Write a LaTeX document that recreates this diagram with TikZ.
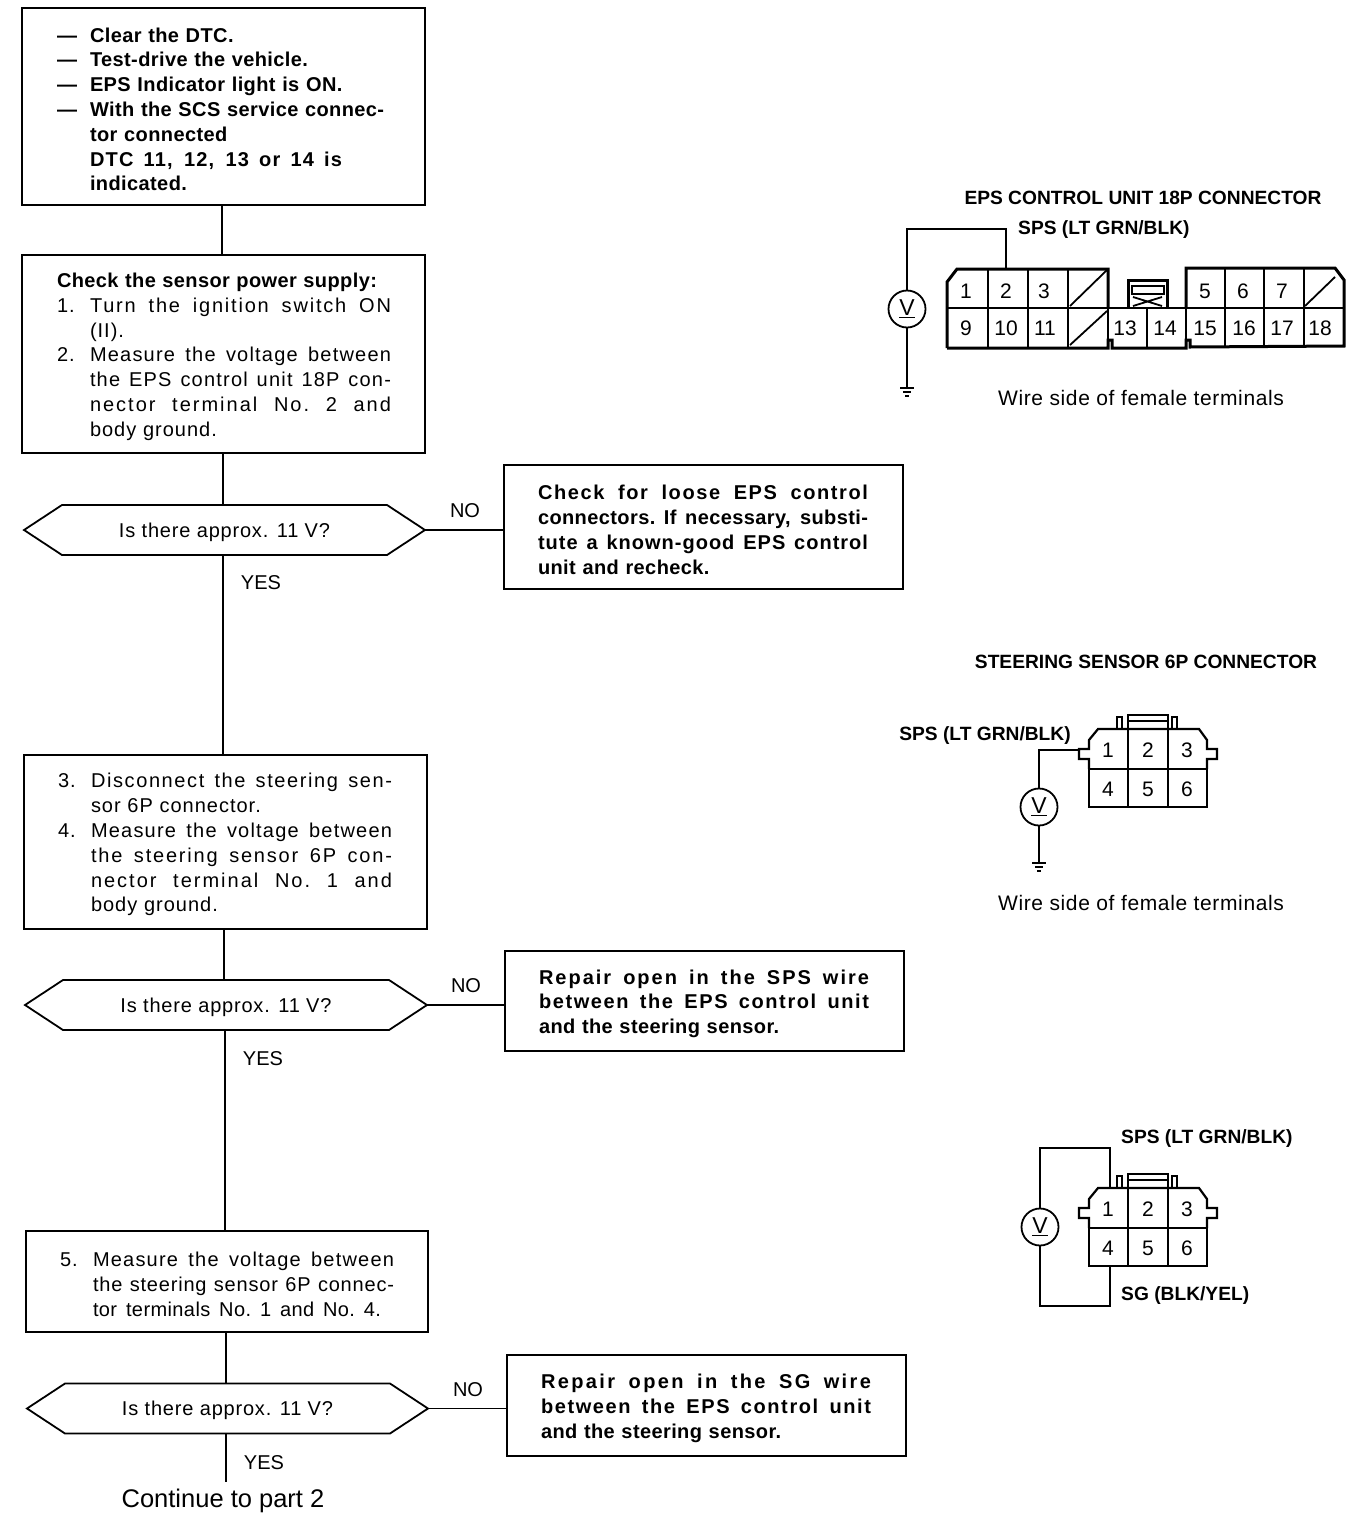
\documentclass[tikz,border=0pt]{standalone}
\usepackage{fontspec}
\setmainfont{Liberation Sans}
\newcommand{\J}[3][4]{\makebox[#2pt][s]{\addfontfeature{LetterSpace=#1}\spaceskip=0.28em plus 1fil minus 0.1em\xspaceskip=\spaceskip #3}}
\newcommand{\Ind}{\hspace*{33pt}}
\newcommand{\Num}[1]{\makebox[33pt][l]{#1}}
\newcommand{\Hex}[2][38pt]{\draw[flow,line join=miter] (#2.west) -- ([xshift=#1]#2.north west) -- ([xshift=-#1]#2.north east) -- (#2.east) -- ([xshift=-#1]#2.south east) -- ([xshift=#1]#2.south west) -- cycle;}
\newcommand{\Ground}[2]{\draw[wire] (#1-7,#2) -- (#1+7,#2) (#1-4,#2+4) -- (#1+4,#2+4) (#1-2,#2+8) -- (#1+2,#2+8);}
\newcommand{\Q}{\rule{0pt}{18.5pt}Is there approx. 11 V?}
\tikzset{
  wire/.style={line width=1.8pt},
  heavy/.style={line width=3pt,line join=miter},
  flow/.style={line width=1.8pt},
  box/.style={draw,line width=1.8pt,outer sep=0pt,anchor=north west,inner ysep=0pt,align=left,
    font=\fontsize{20}{24.8}\selectfont\addfontfeature{LetterSpace=5},
    execute at begin node={\rule{0pt}{20pt}}},
  boldbox/.style={box,font=\fontsize{20}{24.8}\selectfont\bfseries\addfontfeature{LetterSpace=2}},
  decision/.style={minimum height=50pt,inner sep=0pt,outer sep=0pt,font=\fontsize{20}{24}\selectfont\addfontfeature{LetterSpace=4}},
  answer/.style={inner sep=0pt,font=\fontsize{20}{24}\selectfont},
  title/.style={inner sep=0pt,font=\fontsize{19.2}{24}\selectfont\bfseries},
  note/.style={inner sep=0pt,font=\fontsize{21}{24}\selectfont\addfontfeature{LetterSpace=3}},
  pinnum/.style={inner sep=0pt,font=\fontsize{21}{24}\selectfont},
  meter/.style={draw,circle,line width=1.8pt,minimum size=37pt,inner sep=0pt,outer sep=0pt,font=\fontsize{23}{24}\selectfont},
  conn6/.pic={
    \draw[line width=2.2pt] (1089,769) -- (1089,759) -- (1079,759) -- (1079,749) -- (1089,749) -- (1089,740) -- (1098,729)
      -- (1199,729) -- (1207,740) -- (1207,749) -- (1217,749) -- (1217,759) -- (1207,759) -- (1207,769);
    \draw[line width=2.4pt] (1089,769) rectangle (1207,807);
    \draw[wire] (1128,729) -- (1128,807) (1168,729) -- (1168,807);
    \draw[line width=2.2pt] (1117,729) -- (1117,717) -- (1122,717) -- (1122,729)
                (1172,729) -- (1172,717) -- (1177,717) -- (1177,729);
    \draw[line width=2.4pt] (1128,729) -- (1128,715) -- (1168,715) -- (1168,729) (1128,721) -- (1168,721);
    \foreach \n/\x/\y in {1/1108/750,2/1148/750,3/1187/750,4/1108/789,5/1148/789,6/1187/789}
      \node[pinnum] (pin\n) at (\x,\y) {\n};
    \coordinate (-ear) at (1079,750);
    \coordinate (-top) at (1110,729);
    \coordinate (-bot) at (1110,807);
  }
}
\begin{document}
\begin{tikzpicture}[x=1pt,y=-1pt]
\useasboundingbox (0,0) rectangle (1360,1518);
% ---------- flow chart
\node[boldbox,minimum width=403pt,minimum height=197pt,inner xsep=35pt,text width=333pt] (b1) at (22,8)
  {\Num{---}Clear the DTC.\\\Num{---}Test-drive the vehicle.\\\Num{---}EPS Indicator light is ON.\\
   \Num{---}With the SCS service connec-\\\Ind tor connected\\\Ind\J[6]{252}{DTC 11, 12, 13 or 14 is}\\\Ind indicated.};
\node[box,minimum width=403pt,minimum height=198pt,inner xsep=35pt,text width=333pt] (b2) at (22,255)
  {\textbf{\J[2]{320}{Check the sensor power supply:}}\\
   \Num{1.}\J[9]{301}{Turn the ignition switch ON}\\\Ind(II).\\
   \Num{2.}\J[6]{301}{Measure the voltage between}\\
   \Ind\J[6]{301}{the EPS control unit 18P con-}\\
   \Ind\J[10]{301}{nector terminal No. 2 and}\\
   \Ind body ground.};
\node[decision,minimum width=401pt] (d1) at (224.5,530) {\Q};
\Hex{d1}
\node[boldbox,minimum width=399pt,minimum height=124pt,inner xsep=34pt,text width=331pt] (n1) at (504,465)
  {\J[8]{330}{Check for loose EPS control}\\\J[2]{330}{connectors. If necessary, substi-}\\
   \J[5]{330}{tute a known-good EPS control}\\unit and recheck.};
\node[box,minimum width=403pt,minimum height=174pt,inner xsep=34pt,text width=335pt] (b3) at (24,755)
  {\Num{3.}\J[8]{301}{Disconnect the steering sen-}\\\Ind sor 6P connector.\\
   \Num{4.}\J[6]{301}{Measure the voltage between}\\
   \Ind\J[9]{301}{the steering sensor 6P con-}\\
   \Ind\J[10]{301}{nector terminal No. 1 and}\\\Ind body ground.};
\node[decision,minimum width=402pt] (d2) at (226,1005) {\Q};
\Hex{d2}
\node[boldbox,minimum width=399pt,minimum height=100pt,inner xsep=34pt,text width=331pt] (n2) at (505,951)
  {\J[10]{330}{Repair open in the SPS wire}\\\J[8]{330}{between the EPS control unit}\\and the steering sensor.};
\node[box,minimum width=402pt,minimum height=101pt,inner xsep=34pt,text width=334pt] (b4) at (26,1231)
  {\Num{5.}\J[6]{301}{Measure the voltage between}\\
   \Ind\J[4]{301}{the steering sensor 6P connec-}\\\Ind\J[2]{288}{tor terminals No. 1 and No. 4.}};
\node[decision,minimum width=401pt] (d3) at (227.5,1408.5) {\Q};
\Hex{d3}
\node[boldbox,minimum width=399pt,minimum height=101pt,inner xsep=34pt,text width=331pt] (n3) at (507,1355)
  {\J[12]{330}{Repair open in the SG wire}\\\J[8]{330}{between the EPS control unit}\\and the steering sensor.};
\node[inner sep=0pt,font=\fontsize{25.5}{28}\selectfont] (cont) at (223,1500.5) {Continue to part 2};
\coordinate (contin) at (226,1482);
% connectors
\draw[flow] ([xshift=-1.5pt]b1.south) -- ([xshift=-1.5pt]b2.north);
\draw[flow] ([xshift=-0.5pt]b2.south) -- ([xshift=-1.5pt]d1.north);
\draw[flow] ([xshift=-1.5pt]d1.south) -- ([xshift=-2.5pt]b3.north);
\draw[flow] ([xshift=-1.5pt]b3.south) -- ([xshift=-2pt]d2.north);
\draw[flow] ([xshift=-1pt]d2.south) -- ([xshift=-2pt]b4.north);
\draw[flow] ([xshift=-1pt]b4.south) -- ([xshift=-1.5pt]d3.north);
\draw[flow] ([xshift=-1.5pt]d3.south) -- (contin);
\draw[flow] (d1.east) -- (n1.west |- d1.east);
\draw[flow] (d2.east) -- (n2.west |- d2.east);
\draw[flow] (d3.east) -- (n3.west |- d3.east);
% labels
\node[answer] (y1) at (261,583) {YES};
\node[answer] (no1) at (465,511) {NO};
\node[answer] (y2) at (263,1059) {YES};
\node[answer] (no2) at (466,986) {NO};
\node[answer] (y3) at (264,1463) {YES};
\node[answer] (no3) at (468,1390) {NO};
% ---------- 18P connector
\node[title] (t1) at (1143,198) {EPS CONTROL UNIT 18P CONNECTOR};
\node[title,anchor=west] (s1) at (1018,230) {SPS (LT GRN/BLK)};
\node[note] (w1) at (1141,398) {Wire side of female terminals};
\draw[heavy] (947,348) -- (947,282) -- (957,269) -- (1108,269) -- (1108,308);
\draw[heavy] (947,348) -- (1108,348) -- (1108,340) -- (1112,340) -- (1112,348) -- (1186,348) -- (1186,340) -- (1190,340) -- (1190,347) -- (1344,346) -- (1344,280) -- (1335,268) -- (1186,268) -- (1186,308);
\draw[line width=2.2pt] (947,308) -- (1344,308);
\draw[wire] (988,269) -- (988,348) (1028,269) -- (1028,348) (1068,269) -- (1068,348) (1108,308) -- (1108,340)
  (1147,308) -- (1147,348) (1186,308) -- (1186,340) (1225,268) -- (1225,347) (1264,268) -- (1264,347) (1304,268) -- (1304,347);
\draw[wire] (1070,306) -- (1107,270) (1070,345) -- (1107,311) (1305,306) -- (1335,277);
\draw[heavy] (1128,308) -- (1128,280) -- (1167,280) -- (1167,308);
\draw[wire] (1132,286) rectangle (1164,294) (1133,306) -- (1162,297) (1133,297) -- (1162,306);
\foreach \n/\x/\y in {1/966/291,2/1006/291,3/1044/291,5/1205/291,6/1243/291,7/1282/291,
    9/966/328,10/1006/328,11/1045/328,13/1125/328,14/1165/328,15/1205/328,16/1244/328,17/1282/328,18/1320/328}
  \node[pinnum] (p\n) at (\x,\y) {\n};
\node[meter] (m1) at (907,309) {\underline{V}};
\coordinate (top18) at (1006,269);
\coordinate (g1) at (907,388);
\draw[wire] (m1.north) |- (top18 |- 0,229) -- (top18);
\draw[wire] (m1.south) -- (g1);
\Ground{907}{388}
% ---------- steering sensor connector, first view
\node[title] (t2) at (1146,662) {STEERING SENSOR 6P CONNECTOR};
\node[title] (s2) at (985,736) {SPS (LT GRN/BLK)};
\node[note] (w2) at (1141,903) {Wire side of female terminals};
\pic (ca) at (0,0) {conn6};
\node[meter] (m2) at (1039,807) {\underline{V}};
\coordinate (g2) at (1039,863);
\draw[wire] (ca-ear) -| (m2.north);
\draw[wire] (m2.south) -- (g2);
\Ground{1039}{863}
% ---------- steering sensor connector, second view
\node[title,anchor=west] (s3) at (1121,1139) {SPS (LT GRN/BLK)};
\node[title,anchor=west] (s4) at (1121,1296) {SG (BLK/YEL)};
\pic (cb) at (0,459) {conn6};
\node[meter] (m3) at (1040,1227) {\underline{V}};
\draw[wire] (m3.north) |- (cb-top |- 0,1148) -- (cb-top);
\draw[wire] (m3.south) |- (cb-bot |- 0,1306) -- (cb-bot);
\end{tikzpicture}
\end{document}
